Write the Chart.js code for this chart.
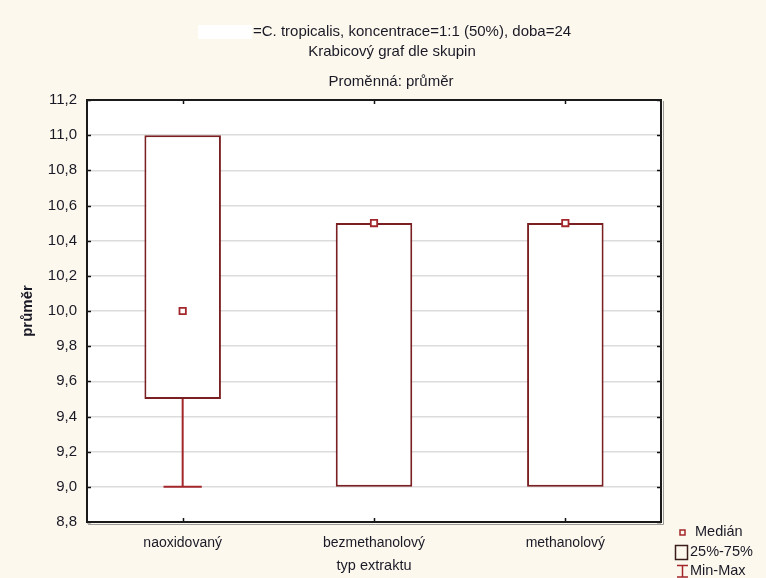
<!DOCTYPE html>
<html><head><meta charset="utf-8">
<script src="https://cdn.jsdelivr.net/npm/chart.js@4/dist/chart.umd.min.js"></script>
<style>html,body{margin:0;padding:0;background:#fdf8ee;}#wrap{width:766px;height:578px;position:relative;}</style>
</head><body><div id="wrap"><canvas id="c" width="766" height="578"></canvas></div>
<script>
const categories = ['naoxidovaný', 'bezmethanolový', 'methanolový'];
const minValues = [9.0, 9.0, 9.0];
const q1Values = [9.5, 9.0, 9.0];
const medianValues = [10.0, 10.5, 10.5];
const q3Values = [11.0, 10.5, 10.5];
const maxValues = [11.0, 10.5, 10.5];
const yTicks = [8.8, 9.0, 9.2, 9.4, 9.6, 9.8, 10.0, 10.2, 10.4, 10.6, 10.8, 11.0, 11.2];
const titleLine1 = '=C. tropicalis, koncentrace=1:1 (50%), doba=24';
const titleLine2 = 'Krabicový graf dle skupin';
const titleLine3 = 'Proměnná: průměr';
const xTitle = 'typ extraktu';
const yTitle = 'průměr';
const legendLabels = ['Medián', '25%-75%', 'Min-Max'];

const FONT = 'Liberation Sans, Arial, sans-serif';
const TEXT = '#1a1a26';
const BOX = '#7a1f22';
const RED = '#a3262b';

const bgPlugin = {
  id: 'bg',
  beforeDraw(chart) {
    const {ctx, chartArea: a} = chart;
    ctx.save();
    ctx.fillStyle = '#fdf8ee';
    ctx.fillRect(0, 0, chart.width, chart.height);
    ctx.fillStyle = '#ffffff';
    ctx.fillRect(a.left, a.top, a.right - a.left, a.bottom - a.top);
    ctx.restore();
  }
};

const whiskerPlugin = {
  id: 'whiskers',
  beforeDatasetsDraw(chart) {
    const {ctx, scales: {x, y}} = chart;
    const meta = chart.getDatasetMeta(0);
    ctx.save();
    ctx.strokeStyle = RED;
    ctx.lineWidth = 2;
    categories.forEach((c, i) => {
      const cx = x.getPixelForValue(i);
      const bw = meta.data[i].width;
      const half = bw / 4;
      const segs = [[minValues[i], q1Values[i]], [maxValues[i], q3Values[i]]];
      segs.forEach(([end, edge]) => {
        if (end === edge) return;
        const ya = y.getPixelForValue(end), yb = y.getPixelForValue(edge);
        ctx.beginPath();
        ctx.moveTo(cx, ya); ctx.lineTo(cx, yb);
        ctx.moveTo(cx - half, ya); ctx.lineTo(cx + half, ya);
        ctx.stroke();
      });
    });
    ctx.restore();
  }
};

const framePlugin = {
  id: 'frame',
  afterDraw(chart) {
    const {ctx, chartArea: a, scales: {x, y}} = chart;
    ctx.save();
    ctx.strokeStyle = '#111';
    ctx.lineWidth = 1.5;
    y.ticks.forEach(t => {
      const py = Math.round(y.getPixelForValue(t.value)) + 0.5;
      ctx.beginPath();
      ctx.moveTo(a.left, py); ctx.lineTo(a.left + 4, py);
      ctx.moveTo(a.right - 4, py); ctx.lineTo(a.right, py);
      ctx.stroke();
    });
    categories.forEach((c, i) => {
      const px = Math.round(x.getPixelForValue(i)) + 0.5;
      ctx.beginPath();
      ctx.moveTo(px, a.top); ctx.lineTo(px, a.top + 4);
      ctx.moveTo(px, a.bottom - 4); ctx.lineTo(px, a.bottom);
      ctx.stroke();
    });
    ctx.strokeStyle = '#9a9a9a';
    ctx.lineWidth = 1;
    ctx.beginPath();
    ctx.moveTo(a.right + 2.5, a.top + 1); ctx.lineTo(a.right + 2.5, a.bottom + 2.5); ctx.lineTo(a.left + 1, a.bottom + 2.5);
    ctx.stroke();
    ctx.strokeStyle = '#1a1a1a';
    ctx.lineWidth = 2;
    ctx.strokeRect(a.left, a.top, a.right - a.left, a.bottom - a.top);

    // titles
    ctx.fillStyle = '#ffffff';
    ctx.fillRect(198, 25, 54, 14);
    ctx.fillStyle = TEXT;
    ctx.font = '15px ' + FONT;
    ctx.textBaseline = 'middle';
    ctx.textAlign = 'left';
    ctx.fillText(titleLine1, 253, 32);
    ctx.textAlign = 'center';
    ctx.fillText(titleLine2, 392, 52);
    ctx.fillText(titleLine3, 391, 82);

    // legend
    ctx.textAlign = 'left';
    ctx.font = '14.5px ' + FONT;
    ctx.fillText(legendLabels[0], 695, 532);
    ctx.fillText(legendLabels[1], 690, 552);
    ctx.fillText(legendLabels[2], 690, 571);
    ctx.strokeStyle = RED;
    ctx.lineWidth = 1.5;
    ctx.strokeRect(680, 530, 5, 5);
    ctx.strokeStyle = '#3a1c1c';
    ctx.strokeRect(675.5, 545.5, 12, 14);
    ctx.strokeStyle = RED;
    ctx.beginPath();
    ctx.moveTo(677, 565.5); ctx.lineTo(688, 565.5);
    ctx.moveTo(682.5, 565.5); ctx.lineTo(682.5, 577);
    ctx.moveTo(677, 577); ctx.lineTo(688, 577);
    ctx.stroke();
    ctx.restore();
  }
};

new Chart(document.getElementById('c'), {
  type: 'bar',
  data: {
    labels: categories,
    datasets: [
      {
        type: 'bar',
        label: legendLabels[1],
        data: categories.map((c, i) => [q1Values[i], q3Values[i]]),
        backgroundColor: '#ffffff',
        borderColor: BOX,
        borderWidth: 2,
        borderSkipped: false,
        barPercentage: 0.4,
        categoryPercentage: 1.0,
        order: 2
      },
      {
        type: 'line',
        label: legendLabels[0],
        data: medianValues,
        showLine: false,
        pointStyle: 'rect',
        pointRadius: 4.5,
        pointBorderWidth: 1.8,
        pointBorderColor: RED,
        pointBackgroundColor: '#ffffff',
        order: 1
      }
    ]
  },
  options: {
    responsive: false,
    animation: false,
    devicePixelRatio: 1,
    layout: { padding: { left: 0, top: 100, right: 105, bottom: 0 } },
    plugins: { legend: { display: false }, tooltip: { enabled: false }, title: { display: false } },
    scales: {
      x: {
        grid: { display: false, drawTicks: false },
        border: { display: false },
        ticks: { color: TEXT, font: { family: FONT, size: 14 }, padding: 13, maxRotation: 0 },
        title: { display: true, text: xTitle, color: TEXT, font: { family: FONT, size: 14.5 }, padding: { top: 0, bottom: 3 } },
        afterFit(s) { s.height = 56; }
      },
      y: {
        min: 8.8, max: 11.2,
        afterBuildTicks(s) { s.ticks = yTicks.map(v => ({ value: v })); },
        grid: { color: '#dcdcdc', lineWidth: 1.5, drawTicks: false },
        border: { display: false },
        ticks: { color: TEXT, font: { family: FONT, size: 15 }, padding: 10,
          callback: v => Number(v).toFixed(1).replace('.', ',') },
        title: { display: true, text: yTitle, color: TEXT, font: { family: FONT, size: 15, weight: 'bold' }, padding: { top: 19, bottom: 0 } },
        afterFit(s) { s.width = 87; }
      }
    }
  },
  plugins: [bgPlugin, whiskerPlugin, framePlugin]
});
</script></body></html>
